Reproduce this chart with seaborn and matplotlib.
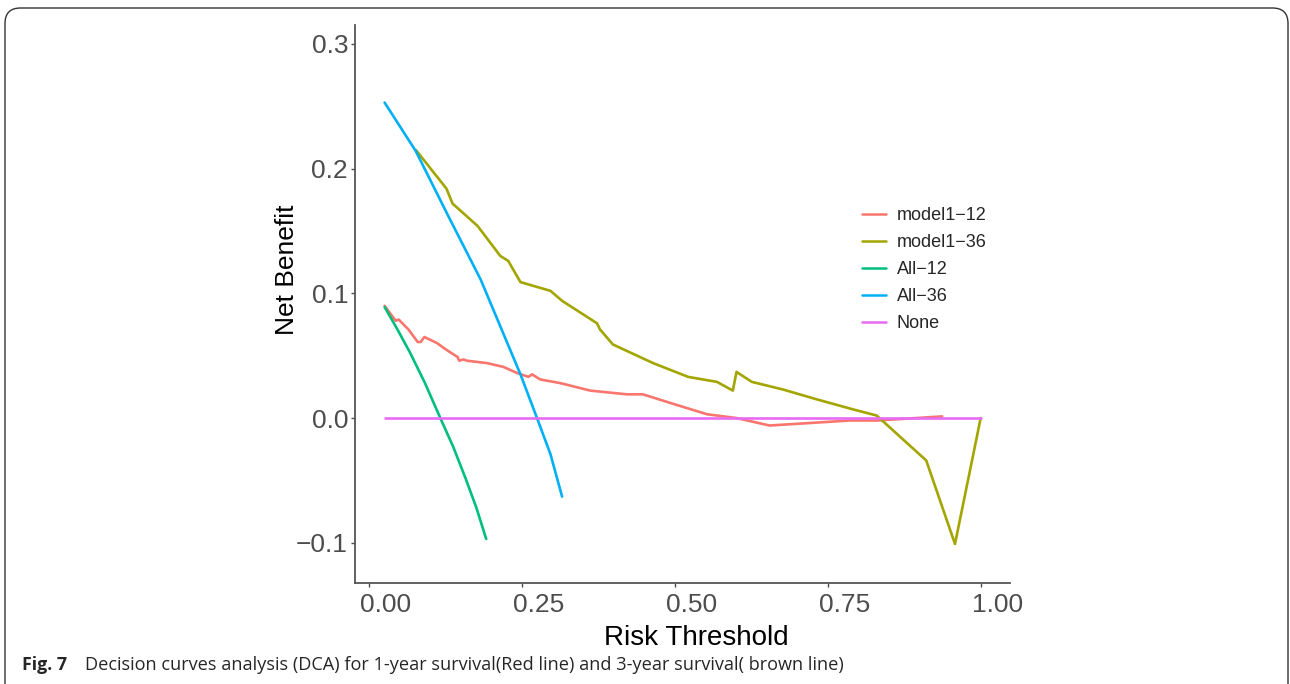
import numpy as np
import pandas as pd
import seaborn as sns
import matplotlib.pyplot as plt
import matplotlib.transforms as mtransforms
from matplotlib.patches import FancyBboxPatch

# values
t_model12 = [0.026, 0.044, 0.049, 0.065, 0.080, 0.085, 0.091, 0.112, 0.126, 0.145,
             0.148, 0.155, 0.160, 0.194, 0.220, 0.243, 0.261, 0.267, 0.280, 0.313,
             0.362, 0.422, 0.448, 0.500, 0.553, 0.601, 0.655, 0.786, 0.830, 0.937]
nb_model12 = [0.090, 0.078, 0.079, 0.071, 0.061, 0.061, 0.065, 0.060, 0.055, 0.049,
              0.046, 0.047, 0.046, 0.044, 0.041, 0.036, 0.033, 0.035, 0.031, 0.028,
              0.022, 0.019, 0.019, 0.011, 0.003, 0.000, -0.006, -0.002, -0.002, 0.0013]

t_model36 = [0.077, 0.127, 0.137, 0.178, 0.215, 0.228, 0.248, 0.297, 0.316, 0.373,
             0.378, 0.399, 0.465, 0.496, 0.522, 0.569, 0.595, 0.601, 0.626, 0.676,
             0.732, 0.791, 0.830, 0.839, 0.911, 0.958, 1.000]
nb_model36 = [0.215, 0.184, 0.172, 0.154, 0.130, 0.126, 0.109, 0.102, 0.094, 0.076,
              0.071, 0.059, 0.044, 0.038, 0.033, 0.029, 0.022, 0.037, 0.029, 0.023,
              0.015, 0.007, 0.002, -0.002, -0.034, -0.101, 0.000]

t_all12 = [0.026, 0.047, 0.068, 0.092, 0.117, 0.138, 0.158, 0.176, 0.192]
nb_all12 = [0.089, 0.071, 0.052, 0.028, 0.000, -0.023, -0.048, -0.072, -0.097]

t_all36 = [0.026, 0.077, 0.129, 0.183, 0.248, 0.275, 0.297, 0.316]
nb_all36 = [0.253, 0.214, 0.163, 0.111, 0.035, 0.000, -0.029, -0.063]

t_none = [0.026, 1.000]
nb_none = [0.0, 0.0]

labels = ["model1\u221212", "model1\u221236", "All\u221212", "All\u221236", "None"]
colors = ["#F8766D", "#A3A500", "#00BF7D", "#00B0F6", "#E76BF3"]
xtick_vals = [0, 0.25, 0.5, 0.75, 1.0]
xtick_labels = ["0.00", "0.25", "0.50", "0.75", "1.00"]
ytick_vals = [-0.1, 0.0, 0.1, 0.2, 0.3]
ytick_labels = ["\u22120.1", "0.0", "0.1", "0.2", "0.3"]

series = [(t_model12, nb_model12), (t_model36, nb_model36), (t_all12, nb_all12),
          (t_all36, nb_all36), (t_none, nb_none)]
frames = []
for lab, (t, nb) in zip(labels, series):
    frames.append(pd.DataFrame({"threshold": t, "net_benefit": nb, "model": lab}))
df = pd.concat(frames, ignore_index=True)

sns.set_style("ticks")
plt.rcParams['font.family'] = ['Liberation Sans', 'DejaVu Sans']

fig = plt.figure(figsize=(12.9, 6.84), dpi=100)
ax = fig.add_axes([355 / 1290, 1 - 583 / 684, 655 / 1290, 558 / 684])

sns.lineplot(data=df, x="threshold", y="net_benefit", hue="model", hue_order=labels,
             palette=colors, sort=False, estimator=None, linewidth=1.9, ax=ax)

ax.set_xlim(-0.0224, 1.0479)
ax.set_ylim(-0.1323, 0.3152)
ax.set_xticks(xtick_vals)
ax.set_xticklabels(xtick_labels)
ax.set_yticks(ytick_vals)
ax.set_yticklabels(ytick_labels)
ax.tick_params(axis="both", labelsize=19, colors="#4D4D4D", length=3, width=1, pad=2)
ax.tick_params(axis="x", pad=4)

# x tick labels sit a little right of their ticks in the original
shift = mtransforms.ScaledTranslation(17 / 100, 0, fig.dpi_scale_trans)
for lab in ax.get_xticklabels():
    lab.set_transform(lab.get_transform() + shift)

ax.set_xlabel("Risk Threshold", fontsize=20, color="black")
ax.xaxis.set_label_coords(0.5206, -0.075)
ax.set_ylabel("Net Benefit", fontsize=19, color="black")
ax.yaxis.set_label_coords(-0.086, 0.561)
for side in ["top", "right"]:
    ax.spines[side].set_visible(False)
for side in ["left", "bottom"]:
    ax.spines[side].set_color("#555555")
    ax.spines[side].set_linewidth(1.3)

leg = ax.legend(loc="upper left", bbox_to_anchor=(846 / 1290, 1 - 191 / 684),
                bbox_transform=fig.transFigure, frameon=False, fontsize=13,
                handlelength=1.3, handletextpad=0.6, labelspacing=0.55, title=None)
for line in leg.get_lines():
    line.set_linewidth(1.8)

# caption and rounded frame
fig.text(22 / 1290, 1 - 665 / 684, "Fig. 7", fontsize=12.8, fontweight="bold",
         family=["Open Sans", "DejaVu Sans"], va="center", ha="left")
fig.text(85 / 1290, 1 - 665 / 684,
         "Decision curves analysis (DCA) for 1-year survival(Red line) and 3-year survival( brown line)",
         fontsize=13.1, family=["Open Sans", "DejaVu Sans"], va="center", ha="left")
frame = FancyBboxPatch((5 / 1290, -0.05), 1283 / 1290, 1 - 8 / 684 + 0.05,
                       boxstyle="round,pad=0,rounding_size=0.012",
                       transform=fig.transFigure, fill=False, edgecolor="#333333",
                       linewidth=1.0, mutation_aspect=1290 / 684)
fig.patches.append(frame)

fig.savefig("out.png", dpi=100)
